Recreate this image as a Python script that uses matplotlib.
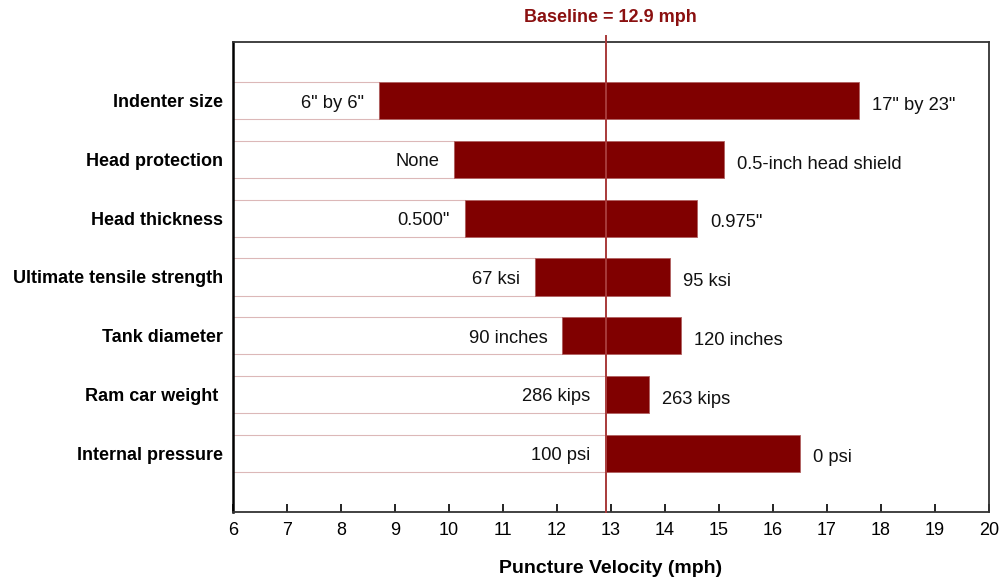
import matplotlib.pyplot as plt
import numpy as np

plt.rcParams['font.family'] = ['Liberation Sans', 'DejaVu Sans']

factors = ['Indenter size', 'Head protection', 'Head thickness',
           'Ultimate tensile strength', 'Tank diameter', 'Ram car weight ',
           'Internal pressure']
low_vals = [8.7, 10.1, 10.3, 11.6, 12.1, 12.9, 12.9]
high_vals = [17.6, 15.1, 14.6, 14.1, 14.3, 13.7, 16.5]
low_text = ['6" by 6"', 'None', '0.500"', '67 ksi', '90 inches', '286 kips', '100 psi']
high_text = ['17" by 23"', '0.5-inch head shield', '0.975"', '95 ksi',
             '120 inches', '263 kips', '0 psi']
baseline = 12.9
xmin, xmax = 6, 20

bar_col = '#800000'

fig = plt.figure(figsize=(10, 5.79), dpi=100)
ax = fig.add_axes([0.233, 0.1157, 0.756, 0.8118])

y = np.arange(len(factors))
h = 0.63
low = np.array(low_vals)
high = np.array(high_vals)

# white "ghost" bars from the axis edge to the start of each bar
ax.barh(y, low - xmin, left=xmin, height=h, color='white',
        edgecolor='#dcb8b8', linewidth=0.8)
ax.barh(y, high - low, left=low, height=h, color=bar_col,
        edgecolor='#b06060', linewidth=0.6)

for i in range(len(factors)):
    ax.text(low[i] - 0.28, y[i] + 0.04, low_text[i], ha='right', va='center',
            fontsize=13.2, color='#111111')
    ax.text(high[i] + 0.24, y[i] + 0.08, high_text[i], ha='left', va='center',
            fontsize=13.2, color='#111111')

ax.plot([baseline, baseline], [7, -1.11], color='#a83a3a', lw=1.4,
        clip_on=False, zorder=5)
ax.text(baseline + 0.08, -1.42, 'Baseline = 12.9 mph', ha='center', va='center',
        fontsize=13, fontweight='bold', color='#8b1010')

ax.set_xlim(xmin, xmax)
ax.set_ylim(7, -1)
ax.set_xticks(range(xmin, xmax + 1))
ax.set_yticks(y)
ax.set_yticklabels(factors, fontsize=13, fontweight='bold')
ax.tick_params(axis='y', length=0, pad=7)
ax.tick_params(axis='x', direction='in', length=6, width=1.2, labelsize=13, pad=7)
ax.set_xlabel('Puncture Velocity (mph)', fontsize=14, fontweight='bold', labelpad=15)

ax.spines['left'].set_linewidth(1.8)
ax.spines['left'].set_color('black')
for s in ['top', 'right', 'bottom']:
    ax.spines[s].set_linewidth(1.3)
    ax.spines[s].set_color('#333333')

fig.savefig('out.png', dpi=100)
